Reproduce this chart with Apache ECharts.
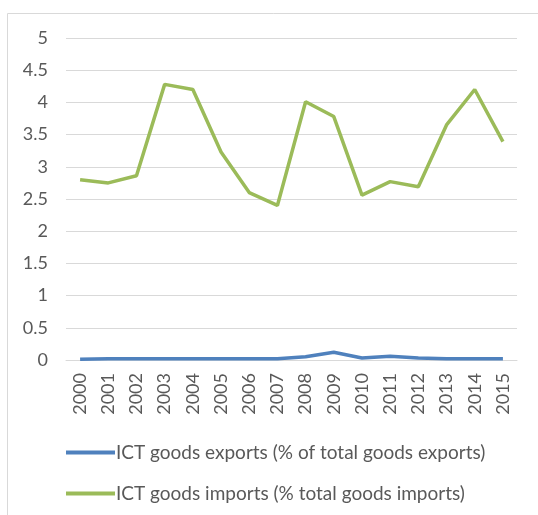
<!DOCTYPE html>
<html><head><meta charset="utf-8">
<script src="https://cdn.jsdelivr.net/npm/echarts@6/dist/echarts.min.js"></script>
<style>html,body{margin:0;padding:0;background:#fff}#c{width:538px;height:515px}</style>
</head><body><div id="c"></div>
<script>
var years = ['2000','2001','2002','2003','2004','2005','2006','2007','2008','2009','2010','2011','2012','2013','2014','2015'];
var exportsPct = [0.01,0.02,0.02,0.02,0.02,0.02,0.02,0.02,0.05,0.12,0.03,0.06,0.03,0.02,0.02,0.02];
var importsPct = [2.80,2.75,2.86,4.28,4.20,3.23,2.60,2.40,4.01,3.78,2.56,2.77,2.69,3.65,4.20,3.39];
var yTicks = {min:0, max:5, interval:0.5};
var exportsName = 'ICT goods exports (% of total goods exports)';
var importsName = 'ICT goods imports (% total goods imports)';

var chart = echarts.init(document.getElementById('c'));
var font = 'Lato, "Open Sans", sans-serif';
chart.setOption({
  animation:false,
  textStyle:{fontFamily:font},
  graphic:[{type:'rect',shape:{x:7.5,y:13.5,width:560,height:560},style:{fill:'none',stroke:'#d9d9d9',lineWidth:1},silent:true}],
  grid:{left:66,right:21,top:38,bottom:155},
  legend:{orient:'vertical',left:61,top:438,itemWidth:49,itemHeight:4,itemGap:22,icon:'rect',
    textStyle:{color:'#595959',fontSize:19,fontFamily:font,padding:[0,0,0,-4]},
    data:[exportsName,importsName]},
  xAxis:{type:'category',data:years,boundaryGap:true,
    axisLine:{lineStyle:{color:'#d9d9d9'}},axisTick:{show:false},
    axisLabel:{rotate:90,color:'#595959',fontSize:18,margin:13,fontFamily:font}},
  yAxis:{type:'value',min:yTicks.min,max:yTicks.max,interval:yTicks.interval,
    axisLine:{show:false},axisTick:{show:false},
    splitLine:{lineStyle:{color:'#d9d9d9'}},
    axisLabel:{color:'#595959',fontSize:18,margin:18,fontFamily:font}},
  series:[
    {name:exportsName,type:'line',data:exportsPct,symbol:'none',lineStyle:{color:'#4f81bd',width:3.5},itemStyle:{color:'#4f81bd'}},
    {name:importsName,type:'line',data:importsPct,symbol:'none',lineStyle:{color:'#9bbb59',width:3.5},itemStyle:{color:'#9bbb59'}}
  ]
});
</script></body></html>
